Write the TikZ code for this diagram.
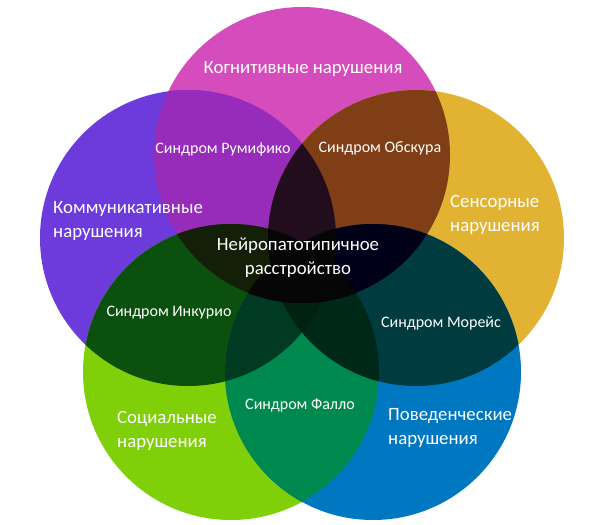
\documentclass[tikz,border=0pt]{standalone}
\usepackage{fontspec}
\setmainfont{Carlito}
\definecolor{colM}{HTML}{D54CBC}
\definecolor{colO}{HTML}{E2B332}
\definecolor{colP}{HTML}{6D3BDB}
\definecolor{colG}{HTML}{7FCF09}
\definecolor{colB}{HTML}{0078C1}
\definecolor{colMP}{HTML}{962CB9}
\definecolor{colMO}{HTML}{7F3E16}
\definecolor{colPG}{HTML}{0B500F}
\definecolor{colGB}{HTML}{00894F}
\definecolor{colOB}{HTML}{003C3F}
\definecolor{colMPO}{HTML}{220D1F}
\definecolor{colMPG}{HTML}{141F08}
\definecolor{colMOB}{HTML}{000019}
\definecolor{colPGB}{HTML}{003A22}
\definecolor{colOGB}{HTML}{002818}
\definecolor{colQuad}{HTML}{01220F}
\definecolor{colDark}{HTML}{060606}
\tikzset{
  biglabel/.style={text=white, inner sep=0pt, font=\fontsize{18.8}{24}\selectfont},
  synlabel/.style={text=white, inner sep=0pt, font=\fontsize{16}{19}\selectfont},
}
\newcommand{\circM}{(302,155) circle[radius=148pt]}
\newcommand{\circO}{(416,238) circle[radius=148pt]}
\newcommand{\circP}{(188,238) circle[radius=148pt]}
\newcommand{\circG}{(231,372) circle[radius=148pt]}
\newcommand{\circB}{(373,372) circle[radius=148pt]}
% fill intersection of two circles
\newcommand{\fillTwo}[3]{\begin{scope}\clip #1; \fill[#3] #2;\end{scope}}
\newcommand{\fillThree}[4]{\begin{scope}\clip #1; \clip #2; \fill[#4] #3;\end{scope}}
\begin{document}
\begin{tikzpicture}[x=1pt,y=-1pt]
\useasboundingbox (0,0) rectangle (600,525);
% base circles
\fill[colM] \circM;
\fill[colO] \circO;
\fill[colP] \circP;
\fill[colG] \circG;
\fill[colB] \circB;
% adjacent pairs
\fillTwo{\circM}{\circP}{colMP}
\fillTwo{\circM}{\circO}{colMO}
\fillTwo{\circP}{\circG}{colPG}
\fillTwo{\circG}{\circB}{colGB}
\fillTwo{\circO}{\circB}{colOB}
% triples without M
\fillThree{\circP}{\circG}{\circB}{colPGB}
\fillThree{\circO}{\circG}{\circB}{colOGB}
\fillThree{\circP}{\circO}{\circG}{colQuad}
\fillThree{\circP}{\circO}{\circB}{colQuad}
% triples with M
\fillThree{\circM}{\circP}{\circO}{colMPO}
\fillThree{\circM}{\circP}{\circG}{colMPG}
\fillThree{\circM}{\circO}{\circB}{colMOB}
% darkest
\fillThree{\circM}{\circG}{\circB}{colDark}
\fillThree{\circM}{\circG}{\circO}{colDark}
\fillThree{\circM}{\circB}{\circP}{colDark}
% labels
\node[biglabel] (cog) at (303,69) {Когнитивные нарушения};
\node[biglabel, anchor=west, align=left] (com) at (53,221) {Коммуникативные\\нарушения};
\node[biglabel, anchor=west, align=left] (sen) at (450,215) {Сенсорные\\нарушения};
\node[biglabel, anchor=west, align=left] (soc) at (117,431) {Социальные\\нарушения};
\node[biglabel, anchor=west, align=left] (beh) at (388,428) {Поведенческие\\нарушения};
\node[biglabel, align=center] (neu) at (298,258) {Нейропатотипичное\\расстройство};
\node[synlabel] (rum) at (223,149) {Синдром Румифико};
\node[synlabel] (obs) at (380,148) {Синдром Обскура};
\node[synlabel] (ink) at (169,313) {Синдром Инкурио};
\node[synlabel] (mor) at (441,323) {Синдром Морейс};
\node[synlabel] (fal) at (300,405) {Синдром Фалло};
\end{tikzpicture}
\end{document}
